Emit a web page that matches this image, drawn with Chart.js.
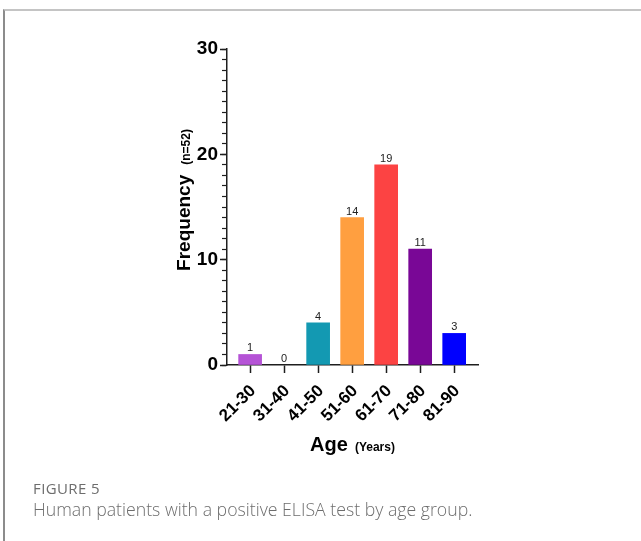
<!DOCTYPE html>
<html>
<head>
<meta charset="utf-8">
<script src="https://cdn.jsdelivr.net/npm/chart.js@4/dist/chart.umd.min.js"></script>
<style>
  html, body { margin: 0; padding: 0; background: #fff; }
  #wrap { position: relative; width: 641px; height: 541px; overflow: hidden; }
  #frame { position: absolute; left: 3px; top: 9px; width: 660px; height: 560px;
           border-top: 2px solid #c4c4c4; border-left: 2px solid #8c8c8c; }
  canvas { position: absolute; left: 0; top: 0; }
  .cap { position: absolute; left: 33px; font-family: "Open Sans", sans-serif; color: #6d6d6d; white-space: nowrap; }
  #fig { top: 478px; font-size: 15px; font-weight: 400; letter-spacing: 0.4px; }
  #desc { top: 497px; font-size: 17.7px; font-weight: 300; }
</style>
</head>
<body>
<div id="wrap">
  <div id="frame"></div>
  <canvas id="myChart" width="641" height="541"></canvas>
  <div class="cap" id="fig">FIGURE 5</div>
  <div class="cap" id="desc">Human patients with a positive ELISA test by age group.</div>
</div>
<script>
// data
const ageGroups = ['21-30', '31-40', '41-50', '51-60', '61-70', '71-80', '81-90'];
const patientCounts = [1, 0, 4, 14, 19, 11, 3];
const barColors = ['#b553d6', 'rgba(0,0,0,0)', '#1399b2', '#ff9f40', '#fc4343', '#790796', '#0000ff'];
const yMajorTicks = [0, 10, 20, 30];

const ctx = document.getElementById('myChart').getContext('2d');

// value above each bar
const barLabels = {
  id: 'barLabels',
  afterDatasetsDraw(chart) {
    const c = chart.ctx;
    const meta = chart.getDatasetMeta(0);
    c.save();
    c.font = '11px Arial';
    c.fillStyle = '#222';
    c.textAlign = 'center';
    c.textBaseline = 'alphabetic';
    meta.data.forEach((bar, i) => {
      c.fillText(String(patientCounts[i]), bar.x, bar.y - 3);
    });
    c.restore();
  }
};

// axis titles with the small "(n=52)" / "(Years)" parts
const axisTitles = {
  id: 'axisTitles',
  afterDraw(chart) {
    const c = chart.ctx, a = chart.chartArea;
    c.save();
    c.fillStyle = '#000';
    c.textAlign = 'left';
    c.textBaseline = 'alphabetic';

    c.font = 'bold 20px Arial';
    const w1 = c.measureText('Age').width;
    c.font = 'bold 12px Arial';
    const w2 = c.measureText('(Years)').width;
    let x = (a.left + a.right) / 2 - (w1 + 7 + w2) / 2;
    c.font = 'bold 20px Arial';
    c.fillText('Age', x, 451);
    c.font = 'bold 12px Arial';
    c.fillText('(Years)', x + w1 + 7, 451);

    c.font = 'bold 19px Arial';
    const h1 = c.measureText('Frequency').width;
    c.font = 'bold 12px Arial';
    const h2 = c.measureText('(n=52)').width;
    const mid = (a.top + a.bottom) / 2 - 7;
    c.translate(190, mid + (h1 + 10 + h2) / 2);
    c.rotate(-Math.PI / 2);
    c.font = 'bold 19px Arial';
    c.fillText('Frequency', 0, 0);
    c.font = 'bold 12px Arial';
    c.fillText('(n=52)', h1 + 10, 0);
    c.restore();
  }
};

const axisColor = '#1e1e1e';

const myChart = new Chart(ctx, {
  type: 'bar',
  data: {
    datasets: [{
      data: patientCounts.map((v, i) => ({ x: i, y: v })),
      backgroundColor: barColors,
      borderWidth: 0,
      barThickness: 23
    }]
  },
  options: {
    responsive: false,
    animation: false,
    devicePixelRatio: 1,
    layout: { padding: { left: 0, top: 49, right: 163, bottom: 0 } },
    plugins: { legend: { display: false }, tooltip: { enabled: false } },
    scales: {
      x: {
        type: 'linear',
        offset: false,
        min: -0.68,
        max: 6.7,
        afterBuildTicks: s => { s.ticks = ageGroups.map((g, i) => ({ value: i })); },
        afterFit: s => { s.height = 176; },
        grid: { offset: false, drawOnChartArea: false, tickLength: 8, tickWidth: 1.5, tickColor: axisColor },
        border: { color: axisColor, width: 1.5 },
        ticks: {
          autoSkip: false, maxRotation: 45, minRotation: 45, padding: 8, labelOffset: 3,
          color: '#000', font: { family: 'Arial', size: 17, weight: 'bold' },
          callback: v => ageGroups[v]
        }
      },
      y: {
        min: 0, max: 30, weight: 1,
        afterBuildTicks: s => { s.ticks = yMajorTicks.map(v => ({ value: v })); },
        afterFit: s => { s.width = 227; },
        grid: { drawOnChartArea: false, tickLength: 7, tickWidth: 1.5, tickColor: axisColor },
        border: { color: axisColor, width: 1.5 },
        ticks: { padding: 2, color: '#000', font: { family: 'Arial', size: 19, weight: 'bold' } }
      },
      yMinor: {
        position: 'left', min: 0, max: 30, weight: 0,
        afterFit: s => { s.width = 0; },
        grid: { drawOnChartArea: false, tickLength: 5, tickWidth: 1.2, tickColor: axisColor },
        border: { display: false },
        ticks: { display: false, stepSize: 1 }
      }
    }
  },
  plugins: [barLabels, axisTitles]
});
</script>
</body>
</html>
